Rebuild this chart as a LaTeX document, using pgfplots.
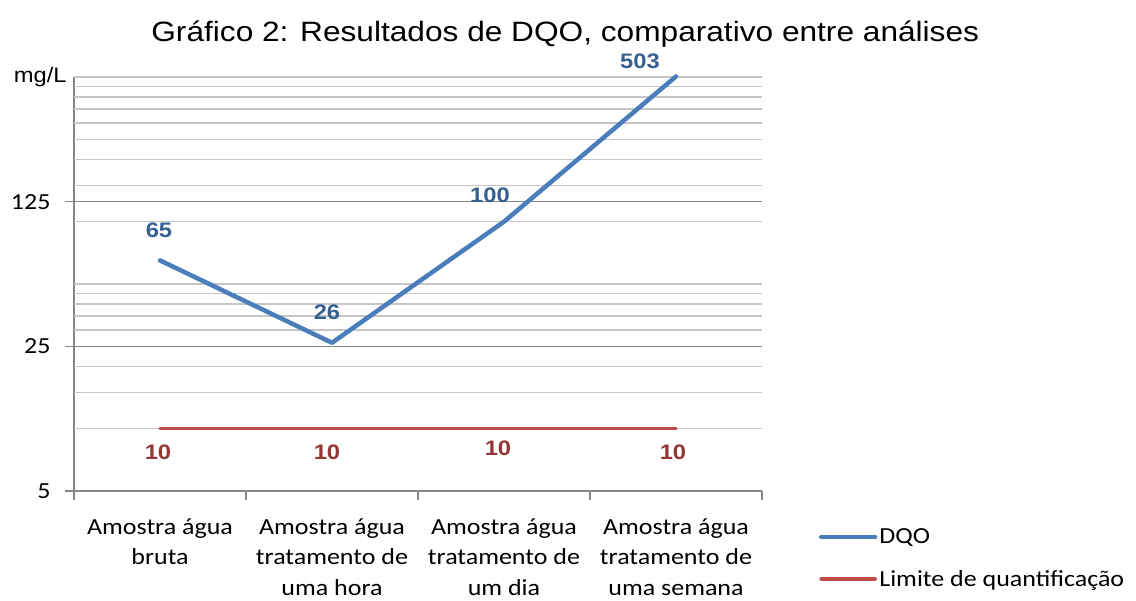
\documentclass[border=0pt]{standalone}
\usepackage{pgfplots}
\pgfplotsset{compat=1.18}
\usepackage{pgfplotstable}
\usepackage{fontspec}
\setmainfont{Carlito}[FakeStretch=1.13]
\newfontfamily\arialx{Liberation Sans}[FakeStretch=1.13]
\definecolor{dqo}{HTML}{4A7EBB}
\definecolor{lim}{HTML}{BE4B48}
\definecolor{dqolab}{HTML}{376092}
\definecolor{limlab}{HTML}{943634}
\definecolor{gridmaj}{HTML}{868686}
\definecolor{gridmin}{HTML}{C6C6C6}

\pgfplotstableread{
x y dx dy
0 65 -1 30
1 26 -5 31
2 100 -14 26
3 503 -36 15
}\dqodata
\pgfplotstableread{
x y dx dy
0 10 -2 -24
1 10 -5 -24
2 10 -6 -20
3 10 -3 -24
}\limdata

\begin{document}
\begin{tikzpicture}
\useasboundingbox (0,0) rectangle (1136pt,601pt);
\begin{axis}[
  at={(74pt,110pt)}, anchor=south west,
  scale only axis, width=688pt, height=414pt,
  ymode=log, log basis y=5, ymin=5, ymax=500,
  xmin=-0.5, xmax=3.5,
  axis x line*=bottom, axis y line*=left,
  axis line style={gridmaj, line width=1.5pt},
  ytick={5,25,125}, yticklabels={5,25,125},
  extra y ticks={10,15,20,30,35,40,45,50,100,150,200,250,300,350,400,450,500},
  extra y tick labels={},
  extra y tick style={major grid style={gridmin, line width=1.2pt}, ytick style={draw=none}},
  ymajorgrids,
  major grid style={gridmaj, line width=1.2pt},
  tick align=outside, major tick length=9pt,
  ytick style={gridmaj, line width=1.2pt},
  xtick={0,1,2,3},
  xticklabels={{Amostra água\\bruta},{Amostra água\\tratamento de\\uma hora},{Amostra água\\tratamento de\\um dia},{Amostra água\\tratamento de\\uma semana}},
  xtick style={draw=none},
  extra x ticks={-0.5,0.5,1.5,2.5,3.5}, extra x tick labels={},
  extra x tick style={xtick style={draw=gridmaj, line width=1.2pt}, grid=none},
  xticklabel style={align=center, font=\fontsize{23}{30.5}\selectfont, anchor=north, yshift=-15pt},
  yticklabel style={font=\fontsize{23}{28}\selectfont, xshift=-11pt},
  ylabel={mg/L},
  ylabel style={font=\arialx\fontsize{21}{24}\selectfont, rotate=-90, at={(axis description cs:-0.049,1.0)}, anchor=center},
  title={Gráfico 2: Resultados de DQO, comparativo entre análises},
  title style={font=\arialx\fontsize{28}{32}\selectfont, at={(axis description cs:0.714,1)}, anchor=center, yshift=37pt},
  legend style={draw=none, fill=none, at={(axis description cs:1.078,-0.162)}, anchor=west, font=\fontsize{23}{28}\selectfont, row sep=21pt},
  legend cell align=left,
  legend image code/.code={\draw[#1] (0pt,0pt) -- (54pt,0pt);},
  clip=false,
]
\addplot[dqo, line width=4.5pt, line cap=round, line join=round,
  nodes near coords, point meta=explicit symbolic,
  visualization depends on={\thisrow{dx}\as\dx},
  visualization depends on={\thisrow{dy}\as\dy},
  every node near coord/.append style={font=\bfseries\arialx\fontsize{21}{24}\selectfont, text=dqolab, anchor=center, xshift=\dx pt, yshift=\dy pt}]
  table[x=x, y=y, meta=y]{\dqodata};
\addlegendentry{DQO}
\addplot[lim, line width=3.5pt, line cap=round,
  nodes near coords, point meta=explicit symbolic,
  visualization depends on={\thisrow{dx}\as\dx},
  visualization depends on={\thisrow{dy}\as\dy},
  every node near coord/.append style={font=\bfseries\arialx\fontsize{21}{24}\selectfont, text=limlab, anchor=center, xshift=\dx pt, yshift=\dy pt}]
  table[x=x, y=y, meta=y]{\limdata};
\addlegendentry{Limite de quantificação}
\end{axis}
\end{tikzpicture}
\end{document}
